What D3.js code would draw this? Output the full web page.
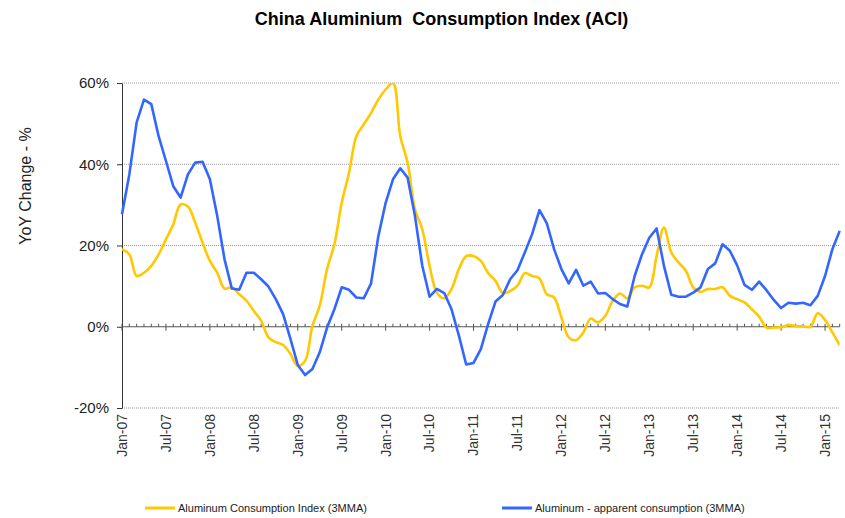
<!DOCTYPE html>
<html>
<head>
<meta charset="utf-8">
<script src="https://cdn.jsdelivr.net/npm/d3@7"></script>
<style>
  body { margin: 0; background: #fff; }
  text { font-family: Arial, "Liberation Sans", sans-serif; }
</style>
</head>
<body>
<div id="container"></div>
<script>
// months Jan-07 .. Mar-15
var months = d3.timeMonth.range(new Date(2007, 0, 1), new Date(2015, 3, 1)).map(d3.timeFormat("%b-%y"));

// Aluminum Consumption Index (3MMA), YoY %
var aci = [
  19.1, 17.8, 12.5, 13.3, 15.0, 17.8, 21.5, 25.2, 30.1, 29.6,
  25.6, 20.7, 16.2, 13.3, 9.4, 9.7, 8.0, 6.4, 3.9, 1.5,
  -2.6, -3.8, -4.5, -6.7, -9.6, -8.4, 0.2, 5.2, 14.2, 20.3,
  30.5, 37.9, 46.9, 49.8, 52.6, 55.9, 58.4, 60.0, 46.9, 40.4,
  28.9, 24.0, 15.0, 8.4, 7.0, 9.3, 14.2, 17.4, 17.4, 16.2,
  13.2, 11.3, 8.3, 8.8, 10.1, 13.2, 12.5, 11.9, 8.0, 7.2,
  2.3, -2.6, -3.3, -1.4, 2.0, 1.1, 2.7, 6.4, 8.2, 7.0,
  9.7, 10.1, 9.7, 17.4, 24.4, 18.3, 15.8, 13.8, 9.7, 8.6,
  9.3, 9.3, 9.7, 7.6, 6.8, 6.0, 4.3, 2.5, -0.2, -0.2,
  -0.1, 0.4, 0.2, 0.1, 0.0, 3.3, 1.7, -1.4, -4.5
];

// Aluminum - apparent consumption (3MMA), YoY %
var apparent = [
  27.7, 37.5, 50.3, 55.9, 54.8, 46.9, 40.8, 34.6, 31.8, 37.5,
  40.4, 40.6, 36.3, 27.3, 16.6, 9.4, 9.1, 13.3, 13.3, 11.7,
  9.9, 6.8, 3.1, -3.0, -9.4, -11.9, -10.4, -6.3, -0.2, 4.3,
  9.7, 9.1, 7.2, 7.0, 10.6, 22.3, 30.5, 36.3, 39.0, 36.7,
  27.3, 15.0, 7.4, 9.3, 8.3, 4.3, -2.2, -9.3, -8.9, -5.5,
  0.7, 6.2, 7.8, 11.7, 13.9, 18.3, 22.8, 28.7, 25.5, 19.1,
  14.2, 10.7, 14.0, 10.1, 11.1, 8.2, 8.3, 6.8, 5.6, 5.0,
  12.5, 17.8, 21.9, 24.2, 15.0, 7.9, 7.4, 7.4, 8.4, 9.7,
  14.2, 15.6, 20.3, 18.7, 15.1, 10.3, 9.1, 11.1, 9.0, 6.6,
  4.6, 5.9, 5.7, 5.9, 5.3, 7.6, 12.5, 19.1, 23.6
];

var yTicks = [-20, 0, 20, 40, 60];
var seriesNames = ["Aluminum Consumption Index (3MMA)", "Aluminum - apparent consumption (3MMA)"];
var colors = ["#FFC800", "#3366FF"];

var width = 845, height = 518;
var plotLeft = 122, plotRight = 839.7, plotTop = 83, plotBottom = 408;

var svg = d3.select("#container").append("svg")
  .attr("width", width)
  .attr("height", height);

var x = d3.scalePoint().domain(months).range([plotLeft, plotRight]);
var y = d3.scaleLinear().domain([-20, 60]).range([plotBottom, plotTop]);

// title
svg.append("text")
  .attr("x", 441.5).attr("y", 25)
  .attr("text-anchor", "middle")
  .style("font-weight", "bold").style("font-size", "18px")
  .style("white-space", "pre").attr("xml:space", "preserve")
  .text("China Aluminium  Consumption Index (ACI)");

// y label
svg.append("text")
  .attr("transform", "translate(31,186) rotate(-90)")
  .attr("text-anchor", "middle")
  .style("font-size", "16px").attr("fill", "#222")
  .text("YoY Change - %");

// gridlines
svg.append("g").selectAll("line")
  .data(yTicks.filter(function(d) { return d != 0; }))
  .enter().append("line")
  .attr("x1", plotLeft).attr("x2", plotRight)
  .attr("y1", function(d) { return y(d); }).attr("y2", function(d) { return y(d); })
  .attr("stroke", "#999").attr("stroke-dasharray", "1,1");

// y axis
var yAxis = svg.append("g")
  .attr("transform", "translate(" + plotLeft + ",0)")
  .call(d3.axisLeft(y).tickValues(yTicks).tickSize(5).tickSizeOuter(0).tickPadding(8)
    .tickFormat(function(d) { return d + "%"; }));
yAxis.select(".domain").attr("stroke", "#333");
yAxis.selectAll(".tick line").attr("stroke", "#333");
yAxis.selectAll("text").style("font-size", "15px").attr("fill", "#222")
  .style("font-family", "Arial, 'Liberation Sans', sans-serif");

// zero line with month ticks
var zero = svg.append("g");
zero.append("line")
  .attr("x1", plotLeft).attr("x2", plotRight)
  .attr("y1", y(0)).attr("y2", y(0))
  .attr("stroke", "#555");
zero.selectAll("line.tk")
  .data(months)
  .enter().append("line")
  .attr("class", "tk")
  .attr("x1", function(d) { return x(d); }).attr("x2", function(d) { return x(d); })
  .attr("y1", function(d, i) { return y(0) - 3; })
  .attr("y2", function(d, i) { return i % 6 == 0 ? y(0) + 4 : y(0); })
  .attr("stroke", "#555");

// x labels
svg.append("g").selectAll("text")
  .data(months.filter(function(d, i) { return i % 6 == 0; }))
  .enter().append("text")
  .attr("transform", function(d) { return "translate(" + x(d) + ",414) rotate(-90)"; })
  .attr("text-anchor", "end")
  .attr("dy", "0.35em")
  .style("font-size", "14px").attr("fill", "#333")
  .text(function(d) { return d; });

// lines
svg.append("clipPath").attr("id", "plot")
  .append("rect").attr("x", plotLeft).attr("y", plotTop)
  .attr("width", plotRight - plotLeft).attr("height", plotBottom - plotTop);

var line = d3.line()
  .x(function(d, i) { return x(months[i]); })
  .y(function(d) { return y(d); });

svg.append("path")
  .datum(aci)
  .attr("clip-path", "url(#plot)")
  .attr("d", line.curve(d3.curveCatmullRom.alpha(0.5)))
  .attr("fill", "none").attr("stroke", colors[0]).attr("stroke-width", 2.6);

svg.append("path")
  .datum(apparent)
  .attr("d", line.curve(d3.curveLinear))
  .attr("fill", "none").attr("stroke", colors[1]).attr("stroke-width", 2.6)
  .attr("stroke-linejoin", "round");

// legend
var legendX = [145, 502];
var legend = svg.append("g").selectAll("g")
  .data(seriesNames)
  .enter().append("g")
  .attr("transform", function(d, i) { return "translate(" + legendX[i] + ",508)"; });
legend.append("line")
  .attr("x1", 0).attr("x2", 30).attr("y1", 0).attr("y2", 0)
  .attr("stroke", function(d, i) { return colors[i]; }).attr("stroke-width", 3);
legend.append("text")
  .attr("x", 33).attr("y", 4)
  .style("font-size", "11px").attr("fill", "#222")
  .text(function(d) { return d; });
</script>
</body>
</html>
